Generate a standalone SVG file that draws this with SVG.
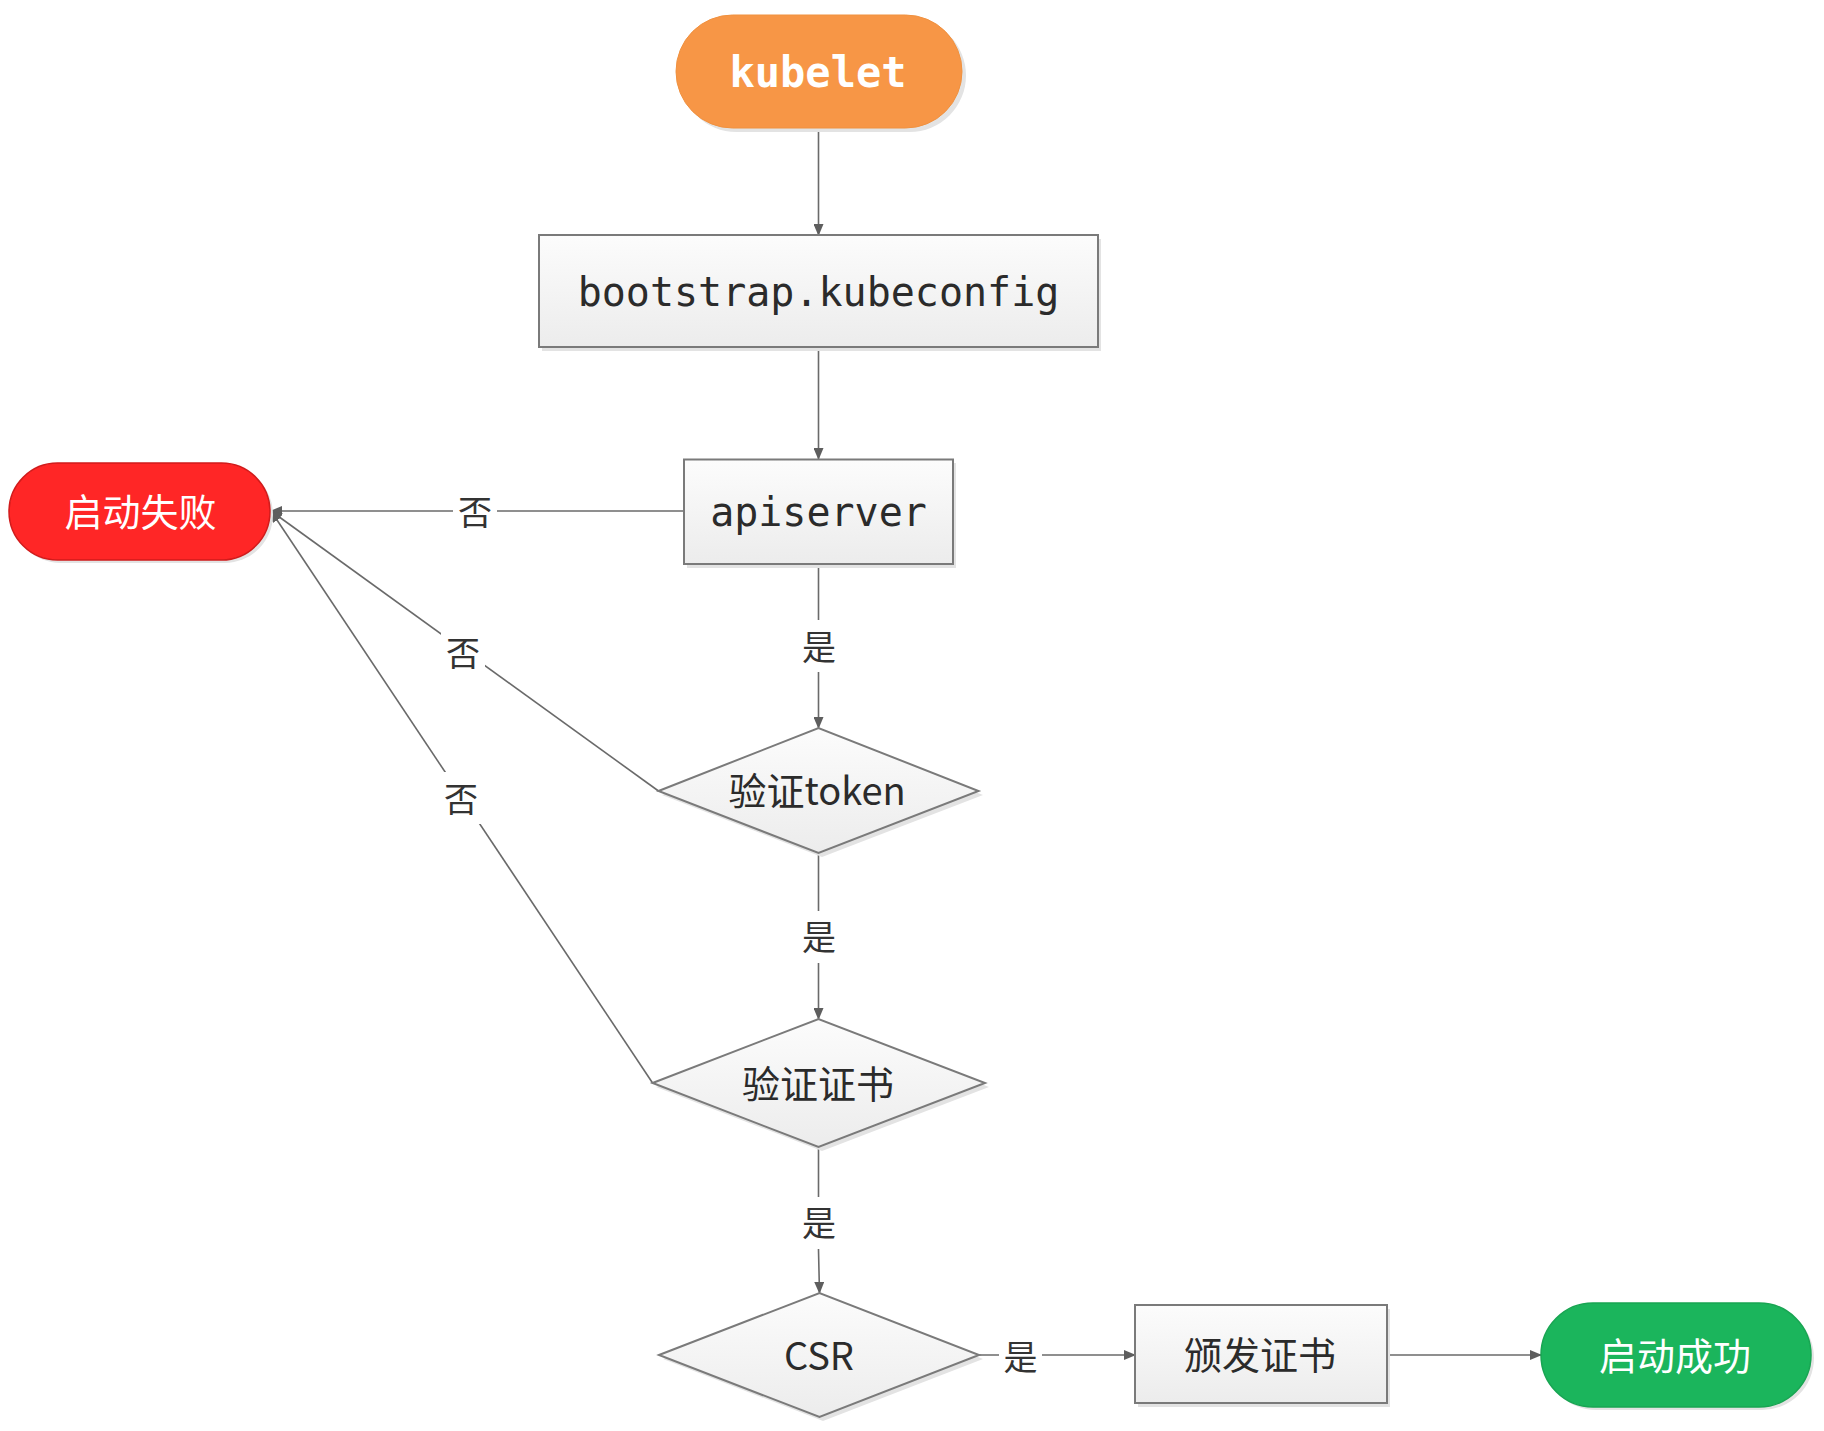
<svg xmlns="http://www.w3.org/2000/svg" width="1824" height="1431" viewBox="0 0 1824 1431">
<defs>
<linearGradient id="boxfill" x1="0" y1="0" x2="0" y2="1">
<stop offset="0" stop-color="#fcfcfc"/>
<stop offset="1" stop-color="#ececec"/>
</linearGradient>
<marker id="arr" markerUnits="userSpaceOnUse" markerWidth="12" markerHeight="10" refX="11" refY="5" orient="auto" viewBox="0 0 12 10">
<path d="M0,0 L12,5 L0,10 z" fill="#5e5e5e"/>
</marker>
<style>
.box{fill:url(#boxfill);stroke:#7a7a7a;stroke-width:2}
.shadow{fill:#e3e3e3;stroke:none}
.conn{fill:none;stroke:#6a6a6a;stroke-width:1.6}
.arrow{marker-end:url(#arr)}
.lbl{font-family:"Noto Sans CJK SC","Noto Sans",sans-serif;font-size:34px;fill:#333;text-anchor:middle}
.lblbg{fill:#ffffff}
.mono{font-family:"DejaVu Sans Mono","Liberation Mono",monospace;font-size:40px;fill:#2b2b2b;text-anchor:middle}
.cjk{font-family:"Noto Sans CJK SC","Noto Sans",sans-serif;font-size:38px;fill:#2b2b2b;text-anchor:middle}
.white{fill:#ffffff}
</style>
</defs>
<rect width="1824" height="1431" fill="#ffffff"/>

<g id="connectors">
<line class="conn arrow" x1="818.5" y1="128" x2="818.5" y2="235"/>
<line class="conn arrow" x1="818.5" y1="347" x2="818.5" y2="459"/>
<line class="conn arrow" x1="684" y1="511" x2="271" y2="511"/>
<line class="conn arrow" x1="818.5" y1="564" x2="818.5" y2="728"/>
<line class="conn arrow" x1="658.5" y1="791" x2="271" y2="511"/>
<line class="conn arrow" x1="818.5" y1="853" x2="818.5" y2="1019"/>
<line class="conn arrow" x1="652.6" y1="1083" x2="271" y2="511"/>
<polyline class="conn arrow" points="818.5,1147 818.5,1250 819.5,1293"/>
<line class="conn arrow" x1="978.5" y1="1355" x2="1135" y2="1355"/>
<line class="conn arrow" x1="1387" y1="1355" x2="1541" y2="1355"/>
<g id="labels">
<rect class="lblbg" x="453" y="490" width="44" height="44"/>
<text class="lbl" x="475" y="525">否</text>
<rect class="lblbg" x="797" y="620" width="44" height="52"/>
<text class="lbl" x="819" y="660">是</text>
<rect class="lblbg" x="441" y="626" width="44" height="52"/>
<text class="lbl" x="463" y="666">否</text>
<rect class="lblbg" x="797" y="911" width="44" height="52"/>
<text class="lbl" x="819" y="950">是</text>
<rect class="lblbg" x="439" y="772" width="44" height="52"/>
<text class="lbl" x="461" y="812">否</text>
<rect class="lblbg" x="797" y="1197" width="44" height="52"/>
<text class="lbl" x="819" y="1236">是</text>
<rect class="lblbg" x="999" y="1333" width="43" height="44"/>
<text class="lbl" x="1020.5" y="1370">是</text>
</g>
</g>

<g id="kubelet">
<rect class="shadow" x="680" y="19" width="286" height="113" rx="56.5"/>
<rect x="676" y="15" width="286" height="113" rx="56.5" fill="#f79646" stroke="#f0913f" stroke-width="1"/>
<text x="818" y="87" font-family="DejaVu Sans Mono,Liberation Mono,monospace" font-size="42" font-weight="bold" fill="#ffffff" text-anchor="middle">kubelet</text>
</g>

<g id="bootstrap">
<rect class="shadow" x="542" y="239" width="559" height="112"/>
<rect class="box" x="539" y="235" width="559" height="112"/>
<text class="mono" x="818.5" y="306">bootstrap.kubeconfig</text>
</g>

<g id="apiserver">
<rect class="shadow" x="687" y="463" width="269" height="105"/>
<rect class="box" x="684" y="459.5" width="269" height="104.5"/>
<text class="mono" x="818.5" y="526">apiserver</text>
</g>

<g id="fail">
<rect class="shadow" x="12" y="466" width="261" height="97" rx="48.5"/>
<rect x="9" y="463" width="261" height="97" rx="48.5" fill="#ff2626" stroke="#d11b1b" stroke-width="1.5"/>
<text class="cjk white" x="140.5" y="526">启动失败</text>
</g>

<g id="verify-token">
<polygon class="shadow" points="662,795 822,732 983,795 822,857"/>
<polygon class="box" points="658.5,791 818.5,728 978.5,791 818.5,853"/>
<text class="cjk" x="817" y="805">验证token</text>
</g>

<g id="verify-cert">
<polygon class="shadow" points="656,1087 822,1023 989,1087 822,1151"/>
<polygon class="box" points="652.6,1083 818.5,1019 985,1083 818.5,1147"/>
<text class="cjk" x="818" y="1098">验证证书</text>
</g>

<g id="csr">
<polygon class="shadow" points="663,1359 823,1297 983,1359 823,1421"/>
<polygon class="box" points="659,1355 819.5,1293 979,1355 819.5,1417"/>
<text class="cjk" x="819" y="1370">CSR</text>
</g>

<g id="issue-cert">
<rect class="shadow" x="1138" y="1309" width="252" height="98"/>
<rect class="box" x="1135" y="1305" width="252" height="98"/>
<text class="cjk" x="1260" y="1369">颁发证书</text>
</g>

<g id="success">
<rect class="shadow" x="1544" y="1306" width="270" height="104" rx="52"/>
<rect x="1541" y="1303" width="270" height="104" rx="52" fill="#1bb55c" stroke="#18a552" stroke-width="1.5"/>
<text class="cjk white" x="1675" y="1370">启动成功</text>
</g>
</svg>
